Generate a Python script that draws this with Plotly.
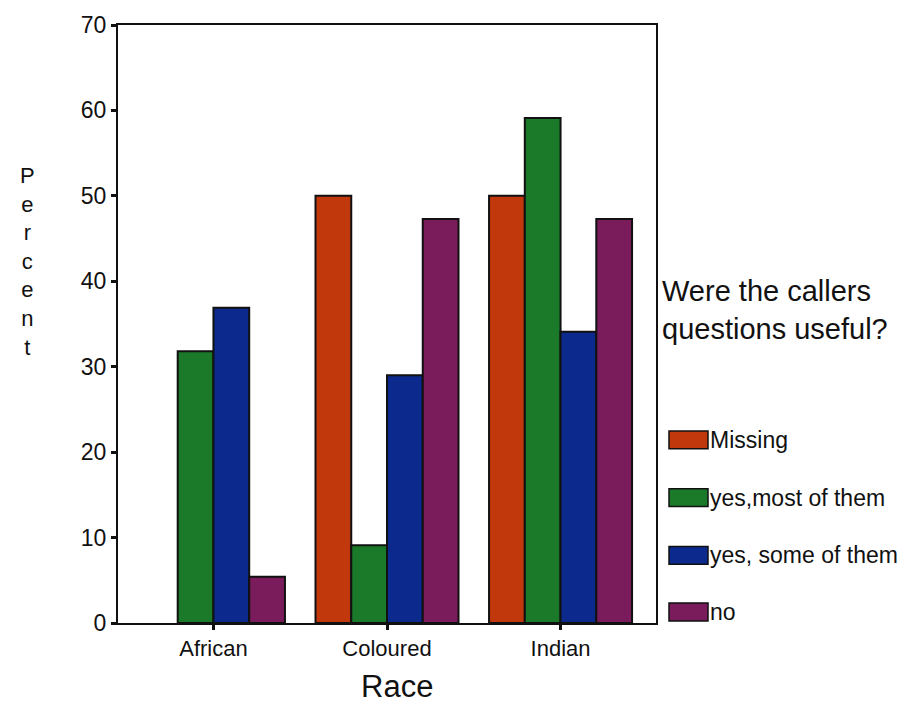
import plotly.graph_objects as go

# Percent of each answer that falls in each race group
races = ["African", "Coloured", "Indian"]
answers = ["Missing", "yes,most of them", "yes, some of them", "no"]
missing = [None, 50.0, 50.0]
yes_most = [31.8, 9.1, 59.1]
yes_some = [36.9, 29.0, 34.1]
no = [5.4, 47.3, 47.3]
y_ticks = [0, 10, 20, 30, 40, 50, 60, 70]

series = [missing, yes_most, yes_some, no]
colors = ["#C0380C", "#1B7A2A", "#0C2A8E", "#7A1B5C"]
FONT = "Arial, Liberation Sans, sans-serif"

fig = go.Figure()
for name, vals, col in zip(answers, series, colors):
    fig.add_trace(go.Bar(
        x=races, y=vals, name=name,
        marker=dict(color=col, line=dict(color="#111111", width=2)),
        showlegend=False,
    ))

fig.update_layout(
    width=919, height=712,
    margin=dict(l=118, r=263, t=22, b=89),
    paper_bgcolor="white", plot_bgcolor="white",
    barmode="group", bargap=0.176, bargroupgap=0.0,
    font=dict(family=FONT, color="#111111"),
)

fig.update_xaxes(
    range=[-0.55, 2.55],
    showline=True, linecolor="#111111", linewidth=2, mirror=True,
    ticks="outside", ticklen=5, tickwidth=3, tickcolor="#111111",
    tickfont=dict(size=22, family=FONT), showgrid=False,
)
fig.update_yaxes(
    range=[0, 70], tickvals=y_ticks,
    showline=True, linecolor="#111111", linewidth=2, mirror=True,
    ticks="outside", ticklen=5, tickwidth=3, tickcolor="#111111",
    tickfont=dict(size=23, family=FONT), showgrid=False, zeroline=False,
)

# x axis title
fig.add_annotation(
    xref="paper", yref="paper", x=0.519, y=-0.106,
    text="Race", showarrow=False, yanchor="middle",
    font=dict(size=31, family=FONT),
)

# vertical stacked axis label
fig.add_annotation(
    xref="paper", yref="paper", x=-0.186, y=0.604,
    text="<br>".join("Percent"), showarrow=False,
    font=dict(size=22, family=FONT), align="center",
)

# legend title
fig.add_annotation(
    xref="paper", yref="paper", x=1.0075, y=0.524,
    xanchor="left", yanchor="middle", align="left",
    text="Were the callers<br>questions useful?", showarrow=False,
    font=dict(size=29, family=FONT),
)

# legend swatches with labels
x0_px, plot_w, plot_h = 118, 538, 601
item_y = [439, 497, 555, 612]
for name, col, ypx in zip(answers, colors, item_y):
    yc = (623 - ypx) / plot_h
    fig.add_shape(
        type="rect", xref="paper", yref="paper",
        x0=(669 - x0_px) / plot_w, x1=(708 - x0_px) / plot_w,
        y0=yc - 9 / plot_h, y1=yc + 9 / plot_h,
        fillcolor=col, line=dict(color="#111111", width=1.5),
    )
    fig.add_annotation(
        xref="paper", yref="paper", x=(708 - x0_px) / plot_w, y=yc,
        xanchor="left", yanchor="middle", text=name, showarrow=False,
        font=dict(size=23, family=FONT),
    )

fig.write_html("out.html")
